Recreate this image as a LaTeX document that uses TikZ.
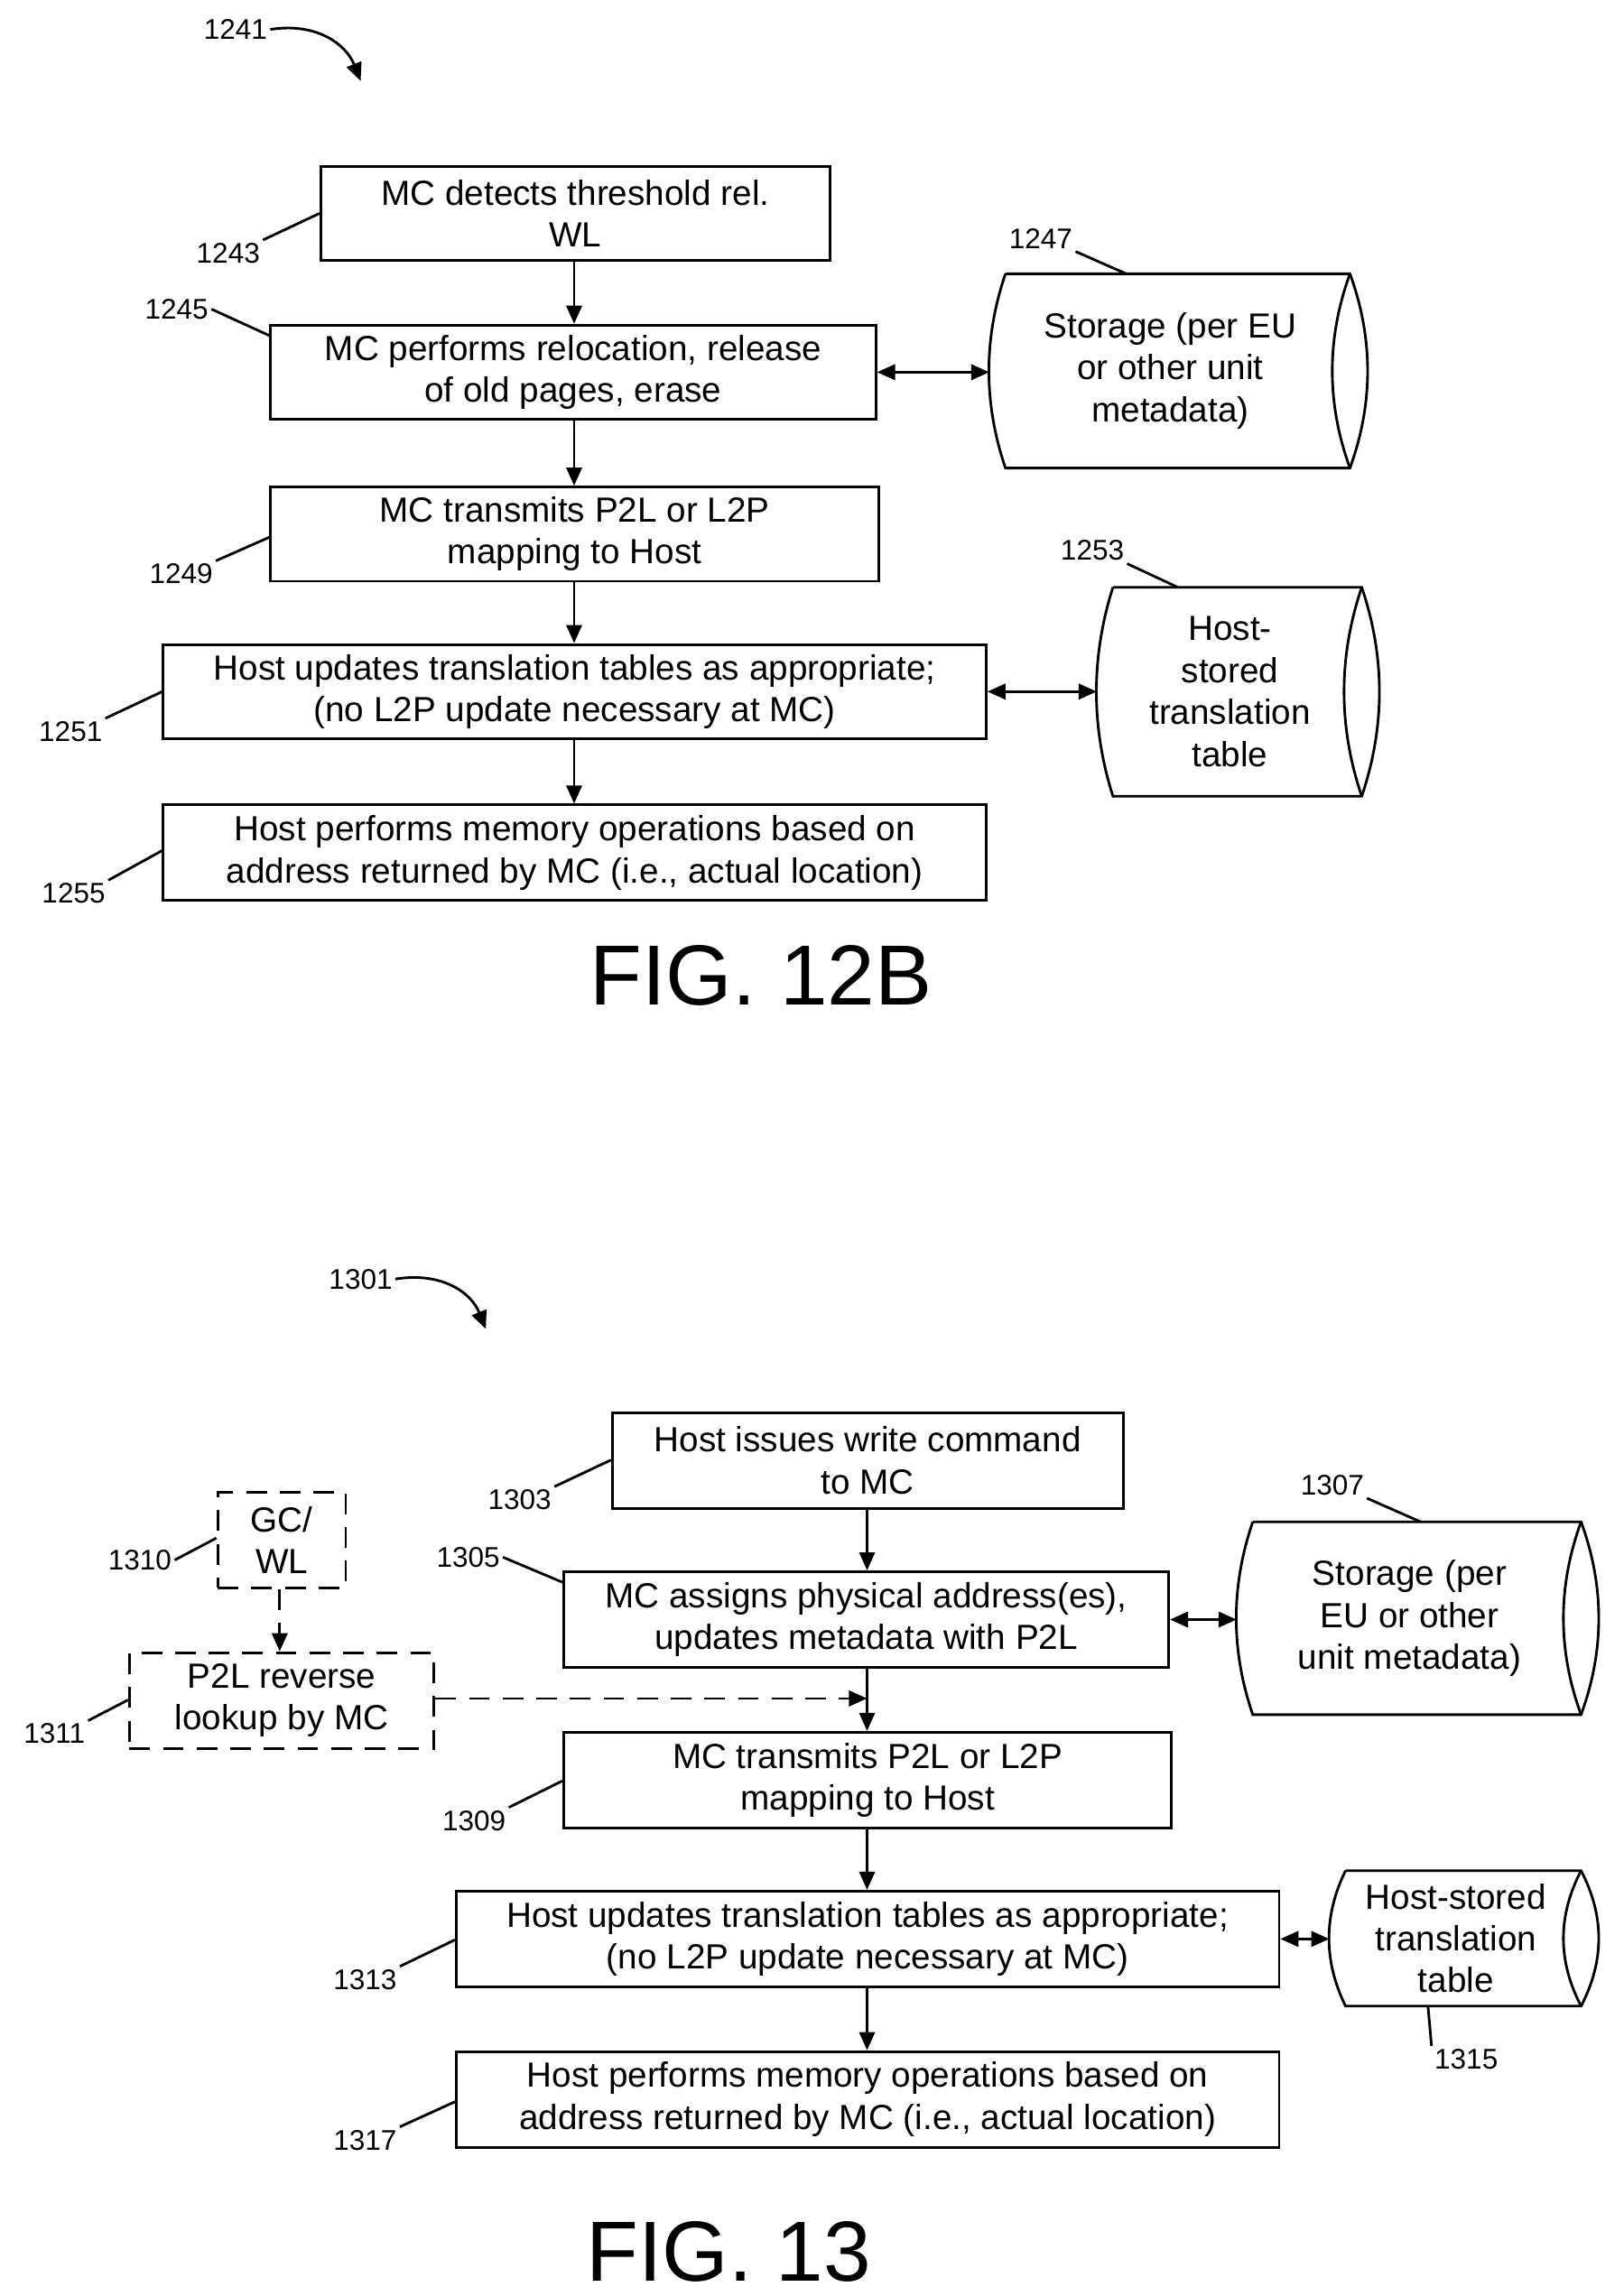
\documentclass[tikz,border=0pt]{standalone}
\usepackage{fontspec}
\setmainfont{Liberation Sans}
\usetikzlibrary{arrows.meta,positioning}

% storage drum: name, x1, y1, x2, y2 (top line corners), text
\newcommand{\drum}[6]{%
  \draw[line width=1pt] (#2,#3) -- (#4,#3)
    .. controls ({#4+16},{#3+(#5-#3)/3}) and ({#4+16},{#3+2*(#5-#3)/3}) .. (#4,#5)
    -- (#2,#5)
    .. controls ({#2-15},{#3+2*(#5-#3)/3}) and ({#2-15},{#3+(#5-#3)/3}) .. (#2,#3);
  \draw[line width=1pt] (#4,#3)
    .. controls ({#4-16},{#3+(#5-#3)/3}) and ({#4-16},{#3+2*(#5-#3)/3}) .. (#4,#5);
  \coordinate (#1w) at ({#2-11},{(#3+#5)/2});
  \node[txt, align=center] (#1) at ({(#2+#4)/2-5},{(#3+#5)/2}) {#6};
}

\begin{document}
\begin{tikzpicture}[x=0.02cm, y=-0.02cm,
  txt/.style={font=\fontsize{13.5}{16.2}\selectfont, inner sep=0pt},
  box/.style={draw, line width=1pt, txt, align=center, anchor=north west},
  dbox/.style={box, dash pattern=on 8pt off 5pt},
  num/.style={font=\fontsize{11}{13}\selectfont, inner sep=1pt},
  lead/.style={line width=1pt},
  flow/.style={line width=1pt, -{Triangle[length=7pt,width=6pt]}},
  both/.style={line width=1pt, {Triangle[length=7pt,width=6pt]}-{Triangle[length=7pt,width=6pt]}}]
    \useasboundingbox (0,0) rectangle (1103,1560);

    % FIG. 12B
    \node[num] (n1241) at (160,20) {1241};
    \draw[lead, -{Triangle[length=7pt,width=6pt]}] (n1241.east) .. controls (215,15) and (235,30) .. (245,55);

    \node[box, minimum width=346*0.02cm, minimum height=64*0.02cm] (b1243) at (217,112)
        {MC detects threshold rel.\\WL};
    \node[box, minimum width=411*0.02cm, minimum height=64*0.02cm] (b1245) at (183,220)
        {MC performs relocation, release\\of old pages, erase};
    \node[box, minimum width=413*0.02cm, minimum height=64*0.02cm] (b1249) at (183,330)
        {MC transmits P2L or L2P\\mapping to Host};
    \node[box, minimum width=559*0.02cm, minimum height=64*0.02cm] (b1251) at (110,437)
        {Host updates translation tables as appropriate;\\(no L2P update necessary at MC)};
    \node[box, minimum width=559*0.02cm, minimum height=65*0.02cm] (b1255) at (110,546)
        {Host performs memory operations based on\\address returned by MC (i.e., actual location)};

    \drum{s1247}{683}{186}{917}{318}{Storage (per EU\\or other unit\\metadata)}
    \drum{s1253}{756}{399}{925}{541}{Host-\\stored\\translation\\table}

    \draw[flow] (b1243.south -| 390,0) -- (b1245.north -| 390,0);
    \draw[flow] (b1245.south -| 390,0) -- (b1249.north -| 390,0);
    \draw[flow] (b1249.south -| 390,0) -- (b1251.north -| 390,0);
    \draw[flow] (b1251.south -| 390,0) -- (b1255.north -| 390,0);
    \draw[both] (b1245.east) -- (s1247w |- b1245.east);
    \draw[both] (b1251.east) -- (s1253w |- b1251.east);

    \node[num] (n1243) at (155,172) {1243};
    \node[num] (n1245) at (120,210) {1245};
    \node[num] (n1247) at (707,162) {1247};
    \node[num] (n1249) at (123,390) {1249};
    \node[num] (n1253) at (742,374) {1253};
    \node[num] (n1251) at (48,497) {1251};
    \node[num] (n1255) at (50,607) {1255};
    \draw[lead] (n1243.north east) -- (b1243.west |- 0,145);
    \draw[lead] (n1245.east) -- (b1245.north west |- 0,228);
    \draw[lead] (n1247.south east) -- (765,186);
    \draw[lead] (n1249.north east) -- (b1249.west |- 0,365);
    \draw[lead] (n1253.south east) -- (800,399);
    \draw[lead] (n1251.north east) -- (b1251.west |- 0,470);
    \draw[lead] (n1255.north east) -- (b1255.west |- 0,578);

    \node[font=\fontsize{33}{36}\selectfont] (fig12b) at (517,663) {FIG. 12B};

    % FIG. 13
    \node[num] (n1301) at (245,869) {1301};
    \draw[lead, -{Triangle[length=7pt,width=6pt]}] (n1301.east) .. controls (300,864) and (320,878) .. (330,903);

    \node[box, minimum width=347*0.02cm, minimum height=65*0.02cm] (b1303) at (415,959)
        {Host issues write command\\to MC};
    \node[box, minimum width=411*0.02cm, minimum height=65*0.02cm] (b1305) at (382,1067)
        {MC assigns physical address(es),\\updates metadata with P2L};
    \node[box, minimum width=413*0.02cm, minimum height=65*0.02cm] (b1309) at (382,1176)
        {MC transmits P2L or L2P\\mapping to Host};
    \node[box, minimum width=559*0.02cm, minimum height=65*0.02cm] (b1313) at (309,1284)
        {Host updates translation tables as appropriate;\\(no L2P update necessary at MC)};
    \node[box, minimum width=559*0.02cm, minimum height=65*0.02cm] (b1317) at (309,1393)
        {Host performs memory operations based on\\address returned by MC (i.e., actual location)};
    \node[dbox, minimum width=87*0.02cm, minimum height=65*0.02cm] (b1310) at (147,1013)
        {GC/\\WL};
    \node[dbox, minimum width=207*0.02cm, minimum height=65*0.02cm] (b1311) at (87,1122)
        {P2L reverse\\lookup by MC};

    \drum{s1307}{851}{1034}{1074}{1165}{Storage (per\\EU or other\\unit metadata)}
    \drum{s1315}{914}{1271}{1074}{1363}{Host-stored\\translation\\table}

    \draw[flow] (b1303.south -| 589,0) -- (b1305.north -| 589,0);
    \draw[flow] (b1305.south -| 589,0) -- (b1309.north -| 589,0);
    \draw[flow] (b1309.south -| 589,0) -- (b1313.north -| 589,0);
    \draw[flow] (b1313.south -| 589,0) -- (b1317.north -| 589,0);
    \draw[both] (b1305.east) -- (s1307w |- b1305.east);
    \draw[both] (b1313.east) -- (s1315w |- b1313.east);
    \draw[flow, dash pattern=on 8pt off 5pt] (b1310.south -| 190,0) -- (b1311.north -| 190,0);
    \draw[flow, dash pattern=on 8pt off 5pt] (b1311.east |- 0,1154) -- (589,1154);

    \node[num] (n1303) at (353,1019) {1303};
    \node[num] (n1305) at (318,1058) {1305};
    \node[num] (n1307) at (905,1009) {1307};
    \node[num] (n1310) at (95,1060) {1310};
    \node[num] (n1311) at (37,1178) {1311};
    \node[num] (n1309) at (322,1237) {1309};
    \node[num] (n1313) at (248,1345) {1313};
    \node[num] (n1315) at (996,1399) {1315};
    \node[num] (n1317) at (248,1454) {1317};
    \draw[lead] (n1303.north east) -- (b1303.west |- 0,992);
    \draw[lead] (n1305.east) -- (b1305.west |- 0,1075);
    \draw[lead] (n1307.south east) -- (965,1034);
    \draw[lead] (n1310.east) -- (b1310.west |- 0,1045);
    \draw[lead] (n1311.north east) -- (b1311.west |- 0,1155);
    \draw[lead] (n1309.north east) -- (b1309.west |- 0,1210);
    \draw[lead] (n1313.north east) -- (b1313.west |- 0,1318);
    \draw[lead] (n1315.north west) -- (970,1363);
    \draw[lead] (n1317.north east) -- (b1317.west |- 0,1428);

    \node[font=\fontsize{33}{36}\selectfont] (fig13) at (495,1530) {FIG. 13};
\end{tikzpicture}
\end{document}
